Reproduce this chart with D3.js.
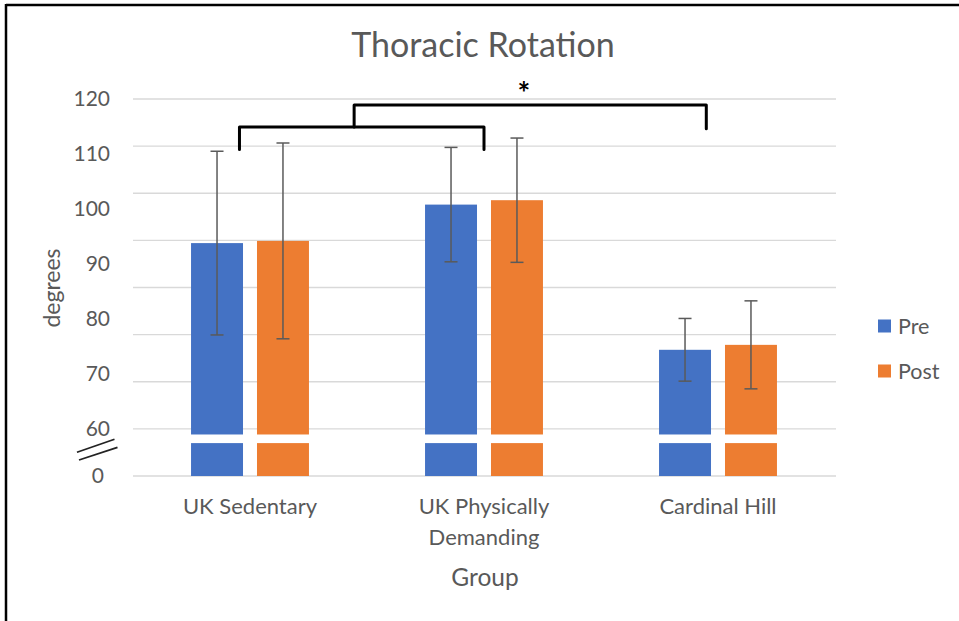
<!DOCTYPE html>
<meta charset="utf-8">
<head>
  <script src="https://d3js.org/d3.v7.min.js"></script>
  <style>
    body { margin: 0; background: #fff; }
    text { font-family: Lato, "Open Sans", sans-serif; fill: #595959; }
  </style>
</head>
<body>
<div id="chart"></div>
<script>
  // data
  var groups = ["UK Sedentary", "UK Physically Demanding", "Cardinal Hill"];
  var groupLines = [["UK Sedentary"], ["UK Physically", "Demanding"], ["Cardinal Hill"]];
  var series = ["Pre", "Post"];
  var preMean = [93.8, 100.8, 74.4];
  var preSd = [16.7, 10.4, 5.7];
  var postMean = [94.2, 101.6, 75.3];
  var postSd = [17.8, 11.3, 8.0];
  var tickLabels = [0, 60, 70, 80, 90, 100, 110, 120];
  // significance brackets: from / to in group index, heights in degrees
  var brackets = [
    {from: -0.045, to: 1.0, top: 114.9, left: 110.8, right: 110.8},
    {from: 0.445, to: 1.95, top: 118.9, left: 114.9, right: 114.6}
  ];
  var starPos = {at: 1.17, y: 122.5};
  // the "//" axis-break glyph, in axis units (below the 60 line)
  var breakGlyph = [{lo: 30.3, hi: 46.9}, {lo: 20.4, hi: 36.6}];

  var W = 959, H = 621;
  var colors = ["#4472C4", "#ED7D31"];

  var svg = d3.select("#chart").append("svg")
          .attr("width", W).attr("height", H);

  // frame (top and left only)
  svg.append("line").attr("x1", 6).attr("x2", W).attr("y1", 5).attr("y2", 5)
          .attr("stroke", "#000").attr("stroke-width", 2.5);
  svg.append("line").attr("x1", 6).attr("x2", 6).attr("y1", 4).attr("y2", H)
          .attr("stroke", "#000").attr("stroke-width", 2.5);

  // broken axis: 0..60 squashed, 60..120 stretched
  var y = d3.scaleLinear().domain([0, 60, 120]).range([476, 429, 99]);
  var grid = d3.scaleLinear().domain([0, 8]).range([476, 99]);
  var breakLo = 42, breakHi = 53;

  var x0 = d3.scaleBand().domain(d3.range(groups.length)).range([133, 835]);
  var x1 = d3.scaleBand().domain(series).range([0, x0.bandwidth()]).paddingInner(0.212).paddingOuter(0.88);
  var gx = d3.scaleLinear().domain([0, 1]).range([x0(0) + x0.bandwidth() / 2, x0(1) + x0.bandwidth() / 2]);

  svg.selectAll("line.grid").data(d3.range(9)).enter()
          .append("line")
          .attr("class", "grid")
          .attr("x1", 133).attr("x2", 836)
          .attr("y1", function(d){ return grid(d); })
          .attr("y2", function(d){ return grid(d); })
          .attr("stroke", "#d9d9d9").attr("stroke-width", 1.3);

  // title
  svg.append("text").attr("x", 483).attr("y", 57)
          .attr("text-anchor", "middle").style("font-size", "34px")
          .text("Thoracic Rotation");

  // y tick labels
  svg.selectAll("text.ytick").data(tickLabels).enter()
          .append("text")
          .attr("class", "ytick")
          .attr("x", function(d){ return d == 0 ? 104 : 110; })
          .attr("y", function(d){ return y(d); })
          .attr("dy", "0.35em")
          .attr("text-anchor", "end")
          .style("font-size", "21px")
          .text(function(d){ return d; });

  // break marks
  svg.selectAll("line.brk").data(breakGlyph).enter()
          .append("line")
          .attr("x1", function(d, i){ return 77 + i * 2; })
          .attr("x2", function(d, i){ return 114.5 + i * 3; })
          .attr("y1", function(d){ return y(d.lo); })
          .attr("y2", function(d){ return y(d.hi); })
          .attr("stroke", "#222").attr("stroke-width", 1.8);

  svg.append("text")
          .attr("transform", "translate(60,288) rotate(-90)")
          .attr("text-anchor", "middle")
          .style("font-size", "23px")
          .text("degrees");

  var rows = [];
  groups.forEach(function(g, i){
    rows.push({g: i, s: "Pre", m: preMean[i], sd: preSd[i]});
    rows.push({g: i, s: "Post", m: postMean[i], sd: postSd[i]});
  });

  var bx = function(d){ return x0(d.g) + x1(d.s); };
  var col = function(d){ return colors[series.indexOf(d.s)]; };

  // upper part
  svg.selectAll("rect.top").data(rows).enter()
          .append("rect")
          .attr("x", bx).attr("width", x1.bandwidth())
          .attr("y", function(d){ return y(d.m); })
          .attr("height", function(d){ return y(breakHi) - y(d.m); })
          .attr("fill", col);
  // stub below the break
  svg.selectAll("rect.stub").data(rows).enter()
          .append("rect")
          .attr("x", bx).attr("width", x1.bandwidth())
          .attr("y", y(breakLo))
          .attr("height", y(0) - y(breakLo))
          .attr("fill", col);

  // error bars
  var eb = svg.selectAll("g.err").data(rows).enter().append("g")
          .attr("stroke", "#5a5a5a").attr("stroke-width", 1.5);
  eb.append("line")
          .attr("x1", function(d){ return bx(d) + x1.bandwidth() / 2; })
          .attr("x2", function(d){ return bx(d) + x1.bandwidth() / 2; })
          .attr("y1", function(d){ return y(d.m + d.sd); })
          .attr("y2", function(d){ return y(d.m - d.sd); });
  [1, -1].forEach(function(k){
    eb.append("line")
            .attr("x1", function(d){ return bx(d) + x1.bandwidth() / 2 - 6.5; })
            .attr("x2", function(d){ return bx(d) + x1.bandwidth() / 2 + 6.5; })
            .attr("y1", function(d){ return y(d.m + k * d.sd); })
            .attr("y2", function(d){ return y(d.m + k * d.sd); });
  });

  // category labels
  var xl = svg.selectAll("text.xl").data(groupLines).enter()
          .append("text")
          .attr("text-anchor", "middle")
          .style("font-size", "22px");
  xl.selectAll("tspan").data(function(d, i){ return d.map(function(t){ return {t: t, i: i}; }); })
          .enter().append("tspan")
          .attr("x", function(d){ return x0(d.i) + x0.bandwidth() / 2; })
          .attr("y", function(d, j){ return 514 + j * 31; })
          .text(function(d){ return d.t; });

  svg.append("text").attr("x", 485).attr("y", 586)
          .attr("text-anchor", "middle").style("font-size", "24.5px")
          .text("Group");

  // legend
  var lg = svg.selectAll("g.lg").data(series).enter().append("g")
          .attr("transform", function(d, i){ return "translate(878," + (326 + i * 45) + ")"; });
  lg.append("rect").attr("x", 0).attr("y", -6.5).attr("width", 13).attr("height", 13)
          .attr("fill", function(d, i){ return colors[i]; });
  lg.append("text").attr("x", 20).attr("dy", "0.35em").style("font-size", "21.5px")
          .text(function(d){ return d; });

  // brackets
  svg.selectAll("path.br").data(brackets).enter()
          .append("path")
          .attr("d", function(d){
            return "M" + gx(d.from) + "," + y(d.left) + "V" + y(d.top) +
                    "H" + gx(d.to) + "V" + y(d.right);
          })
          .attr("fill", "none").attr("stroke", "#000").attr("stroke-width", 3)
          .attr("stroke-linejoin", "round").attr("stroke-linecap", "round");

  svg.append("text").attr("x", gx(starPos.at)).attr("y", y(starPos.y))
          .attr("dy", "0.62em")
          .attr("text-anchor", "middle").style("font-size", "30px").style("font-weight", "bold")
          .style("fill", "#000")
          .text("*");
</script>
</body>
